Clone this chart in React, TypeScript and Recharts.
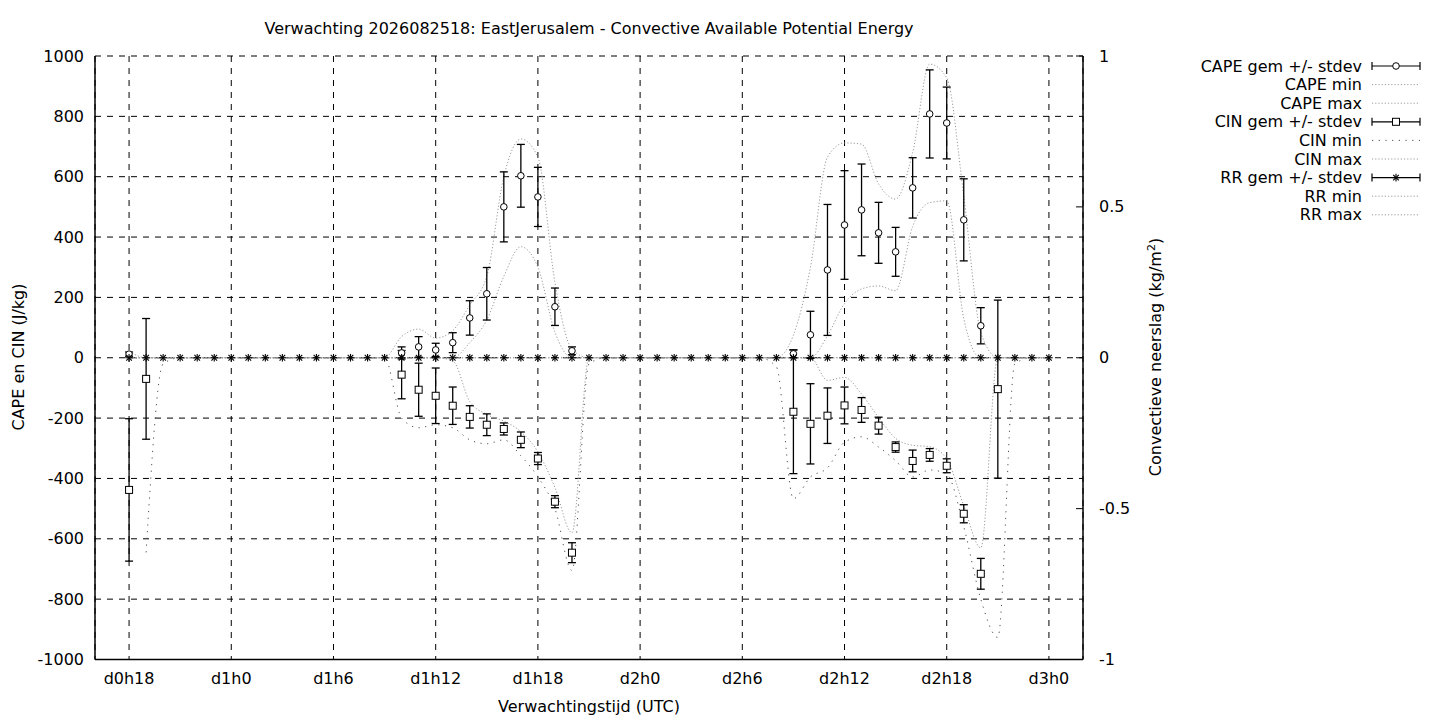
import React from 'react';
import { ComposedChart, Line, Scatter, XAxis, YAxis, CartesianGrid, ErrorBar } from 'recharts';

// hours since d0h0
const hours = [
  18, 19, 20, 21, 22, 23, 24, 25, 26, 27, 28, 29, 30, 31, 32, 33, 34, 35, 36, 37, 38, 39, 40, 41, 42, 43, 44,
  45, 46, 47, 48, 49, 50, 51, 52, 53, 54, 55, 56, 57, 58, 59, 60, 61, 62, 63, 64, 65, 66, 67, 68, 69, 70, 71, 72,
];

const capeMax = [
  20, 0, 0, 0, 0, 0,
  0, 0, 0, 0, 0, 0,
  0, 0, 0, 0, 70, 95,
  65, 90, 175, 270, 600, 725,
  665, 250, 28, 0, 0, 0,
  0, 0, 0, 0, 0, 0,
  0, 0, 0, 75, 300, 665,
  712, 708, 576, 526, 680, 973,
  928, 536, 84, 0, 0, 0,
  0,
];

const capeMin = [
  0, 0, 0, 0, 0, 0,
  0, 0, 0, 0, 0, 0,
  0, 0, 0, 0, 0, 0,
  0, 0, 50, 125, 270, 368,
  300, 85, 0, 0, 0, 0,
  0, 0, 0, 0, 0, 0,
  0, 0, 0, 0, 0, 73,
  180, 228, 238, 222, 435, 514,
  520, 130, 0, 0, 0, 0,
  0,
];

const cinMin = [
  null, -645, -20, 0, 0, 0,
  0, 0, 0, 0, 0, 0,
  0, 0, 0, 0, -200, -232,
  -222, -232, -272, -285, -272, -325,
  -395, -500, -705, -20, 0, 0,
  0, 0, 0, 0, 0, 0,
  0, 0, -30, -467, -395, -365,
  -280, -262, -296, -341, -395, -372,
  -385, -560, -800, -927, -20, 0,
  0,
];

const cinMax = [
  0, 0, 0, 0, 0, 0,
  0, 0, 0, 0, 0, 0,
  0, 0, 0, 0, 0, 0,
  0, -10, -145, -188, -210, -245,
  -312, -430, -580, 0, 0, 0,
  0, 0, 0, 0, 0, 0,
  0, 0, 0, 0, 0, -75,
  -65, -120, -198, -267, -290, -295,
  -335, -490, -630, 0, 0, 0,
  0,
];

const rrMean = [
  0, 0, 0, 0, 0, 0, 0, 0, 0, 0, 0, 0, 0, 0, 0, 0, 0, 0, 0, 0, 0, 0, 0, 0, 0, 0, 0,
  0, 0, 0, 0, 0, 0, 0, 0, 0, 0, 0, 0, 0, 0, 0, 0, 0, 0, 0, 0, 0, 0, 0, 0, 0, 0, 0, 0,
];
const rrStd = [
  0, 0, 0, 0, 0, 0, 0, 0, 0, 0, 0, 0, 0, 0, 0, 0, 0, 0, 0, 0, 0, 0, 0, 0, 0, 0, 0,
  0, 0, 0, 0, 0, 0, 0, 0, 0, 0, 0, 0, 0, 0, 0, 0, 0, 0, 0, 0, 0, 0, 0, 0, 0, 0, 0, 0,
];
const rrMin = [
  0, 0, 0, 0, 0, 0, 0, 0, 0, 0, 0, 0, 0, 0, 0, 0, 0, 0, 0, 0, 0, 0, 0, 0, 0, 0, 0,
  0, 0, 0, 0, 0, 0, 0, 0, 0, 0, 0, 0, 0, 0, 0, 0, 0, 0, 0, 0, 0, 0, 0, 0, 0, 0, 0, 0,
];
const rrMax = [
  0, 0, 0, 0, 0, 0, 0, 0, 0, 0, 0, 0, 0, 0, 0, 0, 0, 0, 0, 0, 0, 0, 0, 0, 0, 0, 0,
  0, 0, 0, 0, 0, 0, 0, 0, 0, 0, 0, 0, 0, 0, 0, 0, 0, 0, 0, 0, 0, 0, 0, 0, 0, 0, 0, 0,
];

const capeHours = [18, 34, 35, 36, 37, 38, 39, 40, 41, 42, 43, 44, 57, 58, 59, 60, 61, 62, 63, 64, 65, 66, 67, 68];
const capeMean = [12, 16, 36, 26, 50, 132, 212, 500, 603, 533, 169, 23, 13, 76, 291, 440, 490, 414, 351, 563, 808, 778, 457, 106];
const capeStd = [7, 20, 34, 22, 33, 57, 87, 116, 104, 98, 62, 13, 13, 78, 217, 180, 152, 101, 81, 100, 146, 119, 136, 60];

const cinHours = [18, 19, 34, 35, 36, 37, 38, 39, 40, 41, 42, 43, 44, 57, 58, 59, 60, 61, 62, 63, 64, 65, 66, 67, 68, 69];
const cinMean = [-438, -70, -56, -106, -126, -159, -196, -222, -236, -272, -334, -477, -646, -179, -219, -192, -158, -173, -225, -296, -342, -322, -358, -517, -716, -104];
const cinStd = [236, 200, 80, 88, 92, 62, 37, 36, 20, 26, 20, 20, 33, 205, 133, 92, 61, 41, 28, 17, 36, 21, 23, 30, 51, 295];

const xTicks = [18, 24, 30, 36, 42, 48, 54, 60, 66, 72];
const leftTicks = [-1000, -800, -600, -400, -200, 0, 200, 400, 600, 800, 1000];
const rightTicks = [-1, -0.5, 0, 0.5, 1];

const titleText = 'Verwachting 2026082518: EastJerusalem - Convective Available Potential Energy';
const xLabel = 'Verwachtingstijd (UTC)';
const yLabel = 'CAPE en CIN (J/kg)';

const rows = hours.map((h, i) => ({
  x: h,
  capeMin: capeMin[i],
  capeMax: capeMax[i],
  cinMin: cinMin[i],
  cinMax: cinMax[i],
  rrMin: rrMin[i],
  rrMax: rrMax[i],
}));
const capePts = capeHours.map((h, i) => ({ x: h, y: capeMean[i], err: capeStd[i] }));
const cinPts = cinHours.map((h, i) => ({ x: h, y: cinMean[i], err: cinStd[i] }));
const rrPts = hours.map((h, i) => ({ x: h, y: rrMean[i], err: rrStd[i] }));

const FONT = 'DejaVu Sans, sans-serif';
const FS = 16;

const LIGHT = { stroke: '#9a9a9a', dash: '1.2 2' };
const SPARSE = { stroke: '#505050', dash: '1.2 5.5' };

const fmtHour = (h: number) => `d${Math.floor(h / 24)}h${h % 24}`;

const CircleMark = (p: any) => (
  <circle cx={p.cx} cy={p.cy} r={3.3} fill="#fff" stroke="#000" strokeWidth={1} />
);
const SquareMark = (p: any) => (
  <rect x={p.cx - 3.5} y={p.cy - 3.5} width={7} height={7} fill="#fff" stroke="#000" strokeWidth={1} />
);
const StarMark = (p: any) => {
  const s = 3.8;
  const d = 2.8;
  return (
    <g stroke="#000" strokeWidth={1.1}>
      <line x1={p.cx - s} x2={p.cx + s} y1={p.cy} y2={p.cy} />
      <line x1={p.cx} x2={p.cx} y1={p.cy - s} y2={p.cy + s} />
      <line x1={p.cx - d} x2={p.cx + d} y1={p.cy - d} y2={p.cy + d} />
      <line x1={p.cx - d} x2={p.cx + d} y1={p.cy + d} y2={p.cy - d} />
    </g>
  );
};

const RightTick = (p: any) => {
  const { x, y, payload } = p;
  return (
    <g>
      <line x1={x - 7} x2={x} y1={y} y2={y} stroke="#000" strokeWidth={1} />
      <text x={x + 16} y={y} dy="0.35em" textAnchor="start" fontSize={FS} fontFamily={FONT} fill="#000">
        {String(payload.value)}
      </text>
    </g>
  );
};

type LegendItem = { label: string; kind: 'err' | 'dot'; mark?: 'circle' | 'square' | 'star'; style?: { stroke: string; dash: string } };
const legendItems: LegendItem[] = [
  { label: 'CAPE gem +/- stdev', kind: 'err', mark: 'circle' },
  { label: 'CAPE min', kind: 'dot', style: LIGHT },
  { label: 'CAPE max', kind: 'dot', style: LIGHT },
  { label: 'CIN gem +/- stdev', kind: 'err', mark: 'square' },
  { label: 'CIN min', kind: 'dot', style: SPARSE },
  { label: 'CIN max', kind: 'dot', style: LIGHT },
  { label: 'RR gem +/- stdev', kind: 'err', mark: 'star' },
  { label: 'RR min', kind: 'dot', style: LIGHT },
  { label: 'RR max', kind: 'dot', style: LIGHT },
];

const Overlay = () => {
  const lx0 = 1372;
  const lx1 = 1420;
  const lmid = (lx0 + lx1) / 2;
  return (
    <svg width={1440} height={720} style={{ position: 'absolute', left: 0, top: 0, pointerEvents: 'none' }}>
      <text x={589} y={34} textAnchor="middle" fontSize={FS} fontFamily={FONT} fill="#000">{titleText}</text>
      <text x={589} y={712} textAnchor="middle" fontSize={FS} fontFamily={FONT} fill="#000">{xLabel}</text>
      <text transform="translate(24,357) rotate(-90)" textAnchor="middle" fontSize={FS} fontFamily={FONT} fill="#000">{yLabel}</text>
      <text transform="translate(1161,357) rotate(-90)" textAnchor="middle" fontSize={FS} fontFamily={FONT} fill="#000">
        Convectieve neerslag (kg/m<tspan dy={-6} fontSize={11}>2</tspan><tspan dy={6}>)</tspan>
      </text>
      {legendItems.map((it, i) => {
        const y = 66 + i * 18.6;
        return (
          <g key={it.label}>
            <text x={1362} y={y} dy="0.35em" textAnchor="end" fontSize={FS} fontFamily={FONT} fill="#000">{it.label}</text>
            {it.kind === 'err' ? (
              <g>
                <line x1={lx0} x2={lx1} y1={y} y2={y} stroke="#000" strokeWidth={1.2} />
                <line x1={lx0} x2={lx0} y1={y - 4} y2={y + 4} stroke="#000" strokeWidth={1.2} />
                <line x1={lx1} x2={lx1} y1={y - 4} y2={y + 4} stroke="#000" strokeWidth={1.2} />
                {it.mark === 'circle' && <CircleMark cx={lmid} cy={y} />}
                {it.mark === 'square' && <SquareMark cx={lmid} cy={y} />}
                {it.mark === 'star' && <StarMark cx={lmid} cy={y} />}
              </g>
            ) : (
              <line x1={lx0} x2={lx1} y1={y} y2={y} stroke={it.style!.stroke} strokeDasharray={it.style!.dash} strokeWidth={1} />
            )}
          </g>
        );
      })}
    </svg>
  );
};

export default function App() {
  const tickStyle = { fontSize: FS, fontFamily: FONT, fill: '#000' };
  return (
    <div style={{ position: 'absolute', left: 0, top: 0, width: 1440, height: 720, background: '#fff', fontFamily: FONT }}>
      <ComposedChart width={1440} height={720} data={rows} margin={{ top: 56, right: 297, bottom: 30.5, left: 0 }}>
        <CartesianGrid yAxisId="left" stroke="#000" strokeDasharray="6 6" strokeWidth={1} />
        <XAxis
          dataKey="x"
          type="number"
          domain={[16, 74]}
          ticks={xTicks}
          interval={0}
          tickFormatter={fmtHour}
          height={30}
          tickSize={0}
          tickMargin={13}
          tick={tickStyle}
          axisLine={{ stroke: '#000', strokeWidth: 1.5 }}
          tickLine={false}
        />
        <XAxis
          xAxisId="top"
          orientation="top"
          dataKey="x"
          type="number"
          domain={[16, 74]}
          height={0}
          tick={false}
          tickLine={false}
          axisLine={{ stroke: '#000', strokeWidth: 1.5 }}
        />
        <YAxis
          yAxisId="left"
          type="number"
          domain={[-1000, 1000]}
          ticks={leftTicks}
          interval={0}
          width={95}
          tickSize={0}
          tickMargin={11}
          tick={tickStyle}
          axisLine={{ stroke: '#000', strokeWidth: 1.5 }}
          tickLine={false}
        />
        <YAxis
          yAxisId="right"
          orientation="right"
          type="number"
          domain={[-1, 1]}
          ticks={rightTicks}
          interval={0}
          width={60}
          tickSize={0}
          tickMargin={0}
          tick={<RightTick />}
          axisLine={{ stroke: '#000', strokeWidth: 1.5 }}
          tickLine={false}
        />

        <Line yAxisId="left" dataKey="capeMin" type="monotone" stroke={LIGHT.stroke} strokeDasharray={LIGHT.dash} strokeWidth={1} dot={false} activeDot={false} isAnimationActive={false} />
        <Line yAxisId="left" dataKey="capeMax" type="monotone" stroke={LIGHT.stroke} strokeDasharray={LIGHT.dash} strokeWidth={1} dot={false} activeDot={false} isAnimationActive={false} />
        <Line yAxisId="left" dataKey="cinMin" type="monotone" stroke={SPARSE.stroke} strokeDasharray={SPARSE.dash} strokeWidth={1} dot={false} activeDot={false} isAnimationActive={false} />
        <Line yAxisId="left" dataKey="cinMax" type="monotone" stroke={LIGHT.stroke} strokeDasharray={LIGHT.dash} strokeWidth={1} dot={false} activeDot={false} isAnimationActive={false} />
        <Line yAxisId="right" dataKey="rrMin" type="monotone" stroke={LIGHT.stroke} strokeDasharray={LIGHT.dash} strokeWidth={1} dot={false} activeDot={false} isAnimationActive={false} />
        <Line yAxisId="right" dataKey="rrMax" type="monotone" stroke={LIGHT.stroke} strokeDasharray={LIGHT.dash} strokeWidth={1} dot={false} activeDot={false} isAnimationActive={false} />

        <Scatter yAxisId="left" data={capePts} dataKey="y" shape={CircleMark} isAnimationActive={false}>
          <ErrorBar dataKey="err" direction="y" width={4} stroke="#000" strokeWidth={1.3} />
        </Scatter>
        <Scatter yAxisId="left" data={cinPts} dataKey="y" shape={SquareMark} isAnimationActive={false}>
          <ErrorBar dataKey="err" direction="y" width={4} stroke="#000" strokeWidth={1.3} />
        </Scatter>
        <Scatter yAxisId="right" data={rrPts} dataKey="y" shape={StarMark} isAnimationActive={false}>
          <ErrorBar dataKey="err" direction="y" width={4} stroke="#000" strokeWidth={1.3} />
        </Scatter>
      </ComposedChart>
      <Overlay />
    </div>
  );
}
